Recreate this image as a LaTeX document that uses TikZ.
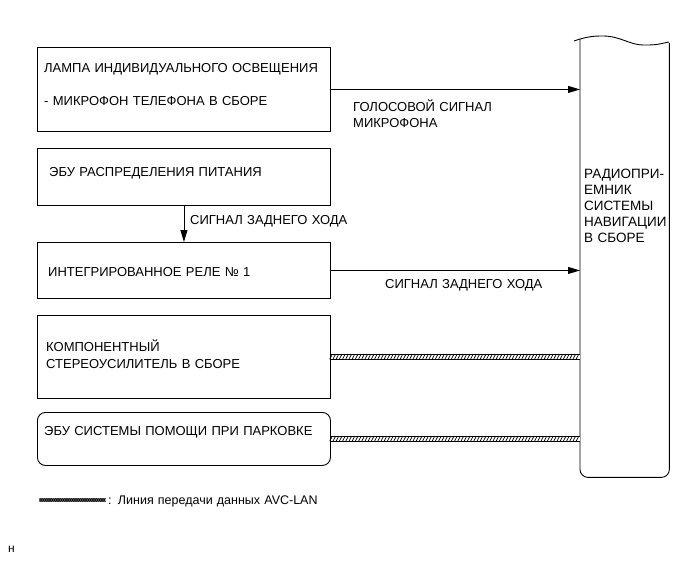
\documentclass[tikz,border=0pt]{standalone}
\usepackage{fontspec}
\setmainfont{Liberation Sans}
\usetikzlibrary{positioning, arrows.meta, decorations.markings}

\begin{document}
\begin{tikzpicture}[x=1pt, y=-1pt,
        every node/.style={font=\fontsize{13}{17}\selectfont},
        block/.style={rectangle, draw, line width=0.9pt, anchor=north west, minimum width=293pt},
        txt/.style={anchor=base west, inner sep=0pt, align=left, text width=290pt},
        arrow/.style={-{Triangle[length=12pt, width=7pt]}, line width=0.9pt},
        avclan/.style={double, double distance=4.6pt, line width=0.7pt,
            postaction={decorate, decoration={markings, mark=between positions 0 and 1 step 3.2pt with {\draw[line width=0.7pt] (-1.2pt,-2.3pt) -- (1.2pt,2.3pt);}}}},
        avclankey/.style={double=black!45, double distance=3.4pt, line width=0.6pt,
            postaction={decorate, decoration={markings, mark=between positions 0 and 1 step 1.8pt with {\draw[line width=0.45pt] (-0.9pt,-1.7pt) -- (0.9pt,1.7pt) (-0.9pt,1.7pt) -- (0.9pt,-1.7pt);}}}}]

    \useasboundingbox (0,0) rectangle (689,562);

    % left side units
    \node[block, minimum height=84pt] (lamp) at (37,47) {};
    \node[block, minimum height=57pt] (power) at (37,148) {};
    \node[block, minimum height=56pt] (relay) at (37,242) {};
    \node[block, minimum height=83pt] (amp) at (37,315) {};
    \node[block, minimum height=53pt, rounded corners=8pt] (park) at (37,412) {};

    \node[txt, font=\fontsize{13}{33.5}\selectfont] (lamptext) at (44,72.2) {ЛАМПА ИНДИВИДУАЛЬНОГО ОСВЕЩЕНИЯ\\- МИКРОФОН ТЕЛЕФОНА В СБОРЕ};
    \node[txt] (powertext) at (49,176.7) {ЭБУ РАСПРЕДЕЛЕНИЯ ПИТАНИЯ};
    \node[txt] (relaytext) at (48,276.4) {ИНТЕГРИРОВАННОЕ РЕЛЕ № 1};
    \node[txt] (amptext) at (46,351.7) {КОМПОНЕНТНЫЙ\\СТЕРЕОУСИЛИТЕЛЬ В СБОРЕ};
    \node[txt] (parktext) at (44,435.7) {ЭБУ СИСТЕМЫ ПОМОЩИ ПРИ ПАРКОВКЕ};

    % navigation receiver (broken-off top)
    \node[minimum width=89pt, minimum height=438pt, anchor=north west, inner sep=0pt] (radio) at (580,39) {};
    \draw[line width=0.9pt] (574,41) .. controls (588,36) and (596,36) .. (603,36) .. controls (620,36) and (630,45) .. (643,45) .. controls (655,45) .. (669,42);
    \draw[line width=0.9pt, rounded corners=8pt] (radio.north west) -- (radio.south west) -- (radio.south east) -- (radio.east |- 0,43);
    \node[txt, text width=86pt, font=\fontsize{13.5}{16}\selectfont] (radiotext) at (584,178) {РАДИОПРИ-\\ЕМНИК\\СИСТЕМЫ\\НАВИГАЦИИ\\В СБОРЕ};

    % signals
    \draw[arrow] (lamp) -- (lamp -| radio.west);
    \node[txt, text width=200pt, font=\fontsize{13}{16}\selectfont] (voice) at (353,111.4) {ГОЛОСОВОЙ СИГНАЛ\\МИКРОФОНА};
    \draw[arrow] (power) -- (relay);
    \node[txt, text width=200pt] (reverse1) at (190,224.7) {СИГНАЛ ЗАДНЕГО ХОДА};
    \draw[arrow] (relay) -- (relay -| radio.west);
    \node[txt, text width=200pt] (reverse2) at (385,288.7) {СИГНАЛ ЗАДНЕГО ХОДА};
    \draw[avclan] (amp.east) -- (amp.east -| radio.west);
    \draw[avclan] (park.east) -- (park.east -| radio.west);

    % legend
    \node[txt, text width=260pt, font=\fontsize{12.5}{15}\selectfont] (legend) at (108,504.5) {: Линия передачи данных AVC-LAN};
    \coordinate (keystart) at (40,500);
    \draw[avclankey] (keystart) -- (keystart -| 105,0);
    \node[txt, text width=20pt, font=\fontsize{12}{14}\selectfont] (corner) at (8,552) {н};
\end{tikzpicture}
\end{document}
